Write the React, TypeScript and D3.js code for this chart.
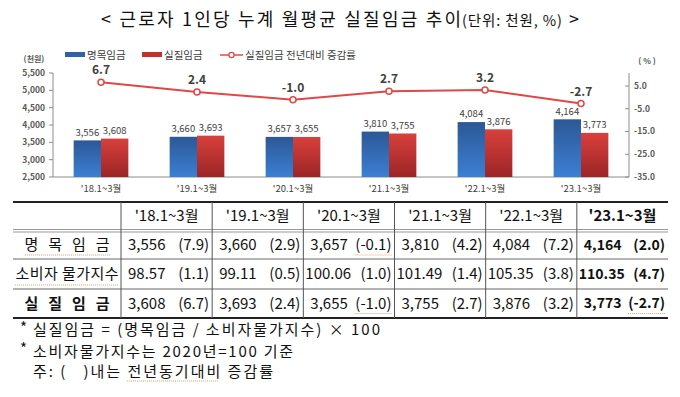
import React from "react";
import * as d3 from "d3";

const categories = ["'18.1~3월", "'19.1~3월", "'20.1~3월", "'21.1~3월", "'22.1~3월", "'23.1~3월"];
const nominalWage = [3556, 3660, 3657, 3810, 4084, 4164];
const realWage = [3608, 3693, 3655, 3755, 3876, 3773];
const realWageGrowth = [6.7, 2.4, -1.0, 2.7, 3.2, -2.7];
const nominalWageGrowth = [7.9, 2.9, -0.1, 4.2, 7.2, 2.0];
const cpiIndex = [98.57, 99.11, 100.06, 101.49, 105.35, 110.35];
const cpiGrowth = [1.1, 0.5, 1.0, 1.4, 3.8, 4.7];
const leftTicks = [2500, 3000, 3500, 4000, 4500, 5000, 5500];
const rightTicks = [5, -5, -15, -25, -35];
const legendLabels = ["명목임금", "실질임금", "실질임금 전년대비 증감률"];
const rowLabels = ["명 목 임 금", "소비자 물가지수", "실 질 임 금"];
const titleMain = "< 근로자 1인당 누계 월평균 실질임금 추이";
const titleUnit = "(단위: 천원, %)";
const footnotes = ["실질임금 = (명목임금 / 소비자물가지수) × 100", "소비자물가지수는 2020년=100 기준", "주: (   )내는 전년동기대비 증감률"];

const FONT = "'Noto Sans CJK KR', 'Noto Sans', sans-serif";

export default function App() {
  const W = 680, H = 397;
  const x = d3.scaleBand<string>().domain(categories).range([53, 629]).paddingInner(0.43).paddingOuter(0.215);
  const xs = d3.scaleBand<string>().domain(["n", "r"]).range([0, x.bandwidth()]);
  const yL = d3.scaleLinear().domain([2500, 5500]).range([177, 73]);
  const yR = d3.scaleLinear().domain([-35, 5]).range([177, 86]);
  const cx = (c: string) => (x(c) as number) + x.bandwidth() / 2;
  const line = d3.line<number>().x((_, i) => cx(categories[i])).y((d) => yR(d));
  const fmt = d3.format(",");
  const f1 = (v: number) => v.toFixed(1);

  // table layout
  const colX = d3.scaleBand<string>().domain(categories).range([121, 668]);
  const rowEdges = [202, 231, 259, 289, 318];
  const rowCenter = (i: number) => (rowEdges[i] + rowEdges[i + 1]) / 2 + (i === 0 ? -1 : 0);

  const tableRows = [
    { label: rowLabels[0], vals: nominalWage.map(fmt), pcts: nominalWageGrowth, bold: false, len: 85 },
    { label: rowLabels[1], vals: cpiIndex.map((d) => d.toFixed(2)), pcts: cpiGrowth, bold: false, len: 103 },
    { label: rowLabels[2], vals: realWage.map(fmt), pcts: realWageGrowth, bold: true, len: 85 },
  ];
  const squiggle = "#e6a57a";

  return (
    <svg width={W} height={H} style={{ position: "absolute", left: 0, top: 0, background: "#fff" }} fontFamily={FONT}>
      <defs>
        <linearGradient id="gBlue" x1="0" y1="0" x2="0" y2="1">
          <stop offset="0" stopColor="#2c5896" />
          <stop offset="1" stopColor="#3c7fd4" />
        </linearGradient>
        <linearGradient id="gRed" x1="0" y1="0" x2="0" y2="1">
          <stop offset="0" stopColor="#d8403d" />
          <stop offset="1" stopColor="#9c2526" />
        </linearGradient>
      </defs>

      {/* Title */}
      <text x={101} y={26} fontSize={18} fill="#111" textLength={360} lengthAdjust="spacing">{titleMain}</text>
      <text x={462} y={26} fontSize={14.5} fill="#111" textLength={100} lengthAdjust="spacing">{titleUnit}</text>
      <text x={569} y={26} fontSize={18} fill="#111">&gt;</text>

      {/* Legend */}
      <rect x={65} y={52} width={20} height={5} fill="#2f62a8" />
      <text x={87} y={55} dy="0.35em" fontSize={10.5} fill="#404040">{legendLabels[0]}</text>
      <rect x={142} y={52} width={20} height={5} fill="#c0302e" />
      <text x={164} y={55} dy="0.35em" fontSize={10.5} fill="#404040">{legendLabels[1]}</text>
      <line x1={220} x2={243} y1={55} y2={55} stroke="#e04848" strokeWidth={1.5} />
      <circle cx={231.5} cy={55} r={2.6} fill="#fff" stroke="#e04848" strokeWidth={1.3} />
      <text x={245} y={55} dy="0.35em" fontSize={10.5} fill="#404040">{legendLabels[2]}</text>

      {/* Axis units */}
      <text x={34} y={59} dy="0.35em" textAnchor="middle" fontSize={8} fill="#595959" fontWeight="bold">(천원)</text>
      <text x={647} y={61} dy="0.35em" textAnchor="middle" fontSize={8} fill="#595959" fontWeight="bold">( % )</text>

      {/* Left axis */}
      <line x1={53} x2={53} y1={yL(5500)} y2={yL(2500)} stroke="#8c8c8c" />
      {leftTicks.map((t) => (
        <g key={t}>
          <line x1={49} x2={53} y1={yL(t)} y2={yL(t)} stroke="#8c8c8c" />
          <text x={45} y={yL(t)} dy="0.35em" textAnchor="end" fontSize={8.5} fontWeight="bold" fill="#595959">{fmt(t)}</text>
        </g>
      ))}
      {/* Right axis */}
      <line x1={629} x2={629} y1={yL(5500)} y2={yR(-35)} stroke="#8c8c8c" />
      {rightTicks.map((t) => (
        <g key={t}>
          <line x1={625} x2={629} y1={yR(t)} y2={yR(t)} stroke="#8c8c8c" />
          <text x={634} y={yR(t)} dy="0.35em" textAnchor="start" fontSize={8.5} fontWeight="bold" fill="#595959">{f1(t)}</text>
        </g>
      ))}
      {/* baseline */}
      <line x1={53} x2={629} y1={177} y2={177} stroke="#8c8c8c" />

      {/* Bars */}
      {categories.map((c, i) => {
        const x0 = x(c) as number;
        return (
          <g key={c}>
            <rect x={x0 + (xs("n") as number)} y={yL(nominalWage[i])} width={xs.bandwidth()} height={yL(2500) - yL(nominalWage[i])} fill="url(#gBlue)" />
            <rect x={x0 + (xs("r") as number)} y={yL(realWage[i])} width={xs.bandwidth()} height={yL(2500) - yL(realWage[i])} fill="url(#gRed)" />
            <text x={x0 + (xs("n") as number) + xs.bandwidth() / 2} y={yL(nominalWage[i]) - 8} dy="0.35em" textAnchor="middle" fontSize={9.5} fill="#404040">{fmt(nominalWage[i])}</text>
            <text x={x0 + (xs("r") as number) + xs.bandwidth() / 2} y={yL(realWage[i]) - 8} dy="0.35em" textAnchor="middle" fontSize={9.5} fill="#404040">{fmt(realWage[i])}</text>
            <text x={cx(c)} y={189} dy="0.35em" textAnchor="middle" fontSize={9.5} fill="#404040">{c}</text>
          </g>
        );
      })}

      {/* Line */}
      <path d={line(realWageGrowth) as string} fill="none" stroke="#e04848" strokeWidth={2} />
      {realWageGrowth.map((v, i) => (
        <g key={i}>
          <circle cx={cx(categories[i])} cy={yR(v)} r={3} fill="#fff" stroke="#e04848" strokeWidth={1.5} />
          <text x={cx(categories[i])} y={yR(v) - 12} dy="0.35em" textAnchor="middle" fontSize={12} fontWeight="bold" fill="#404040">{f1(v)}</text>
        </g>
      ))}

      {/* Table */}
      <g>
        <line x1={13} x2={668} y1={202} y2={202} stroke="#222" strokeWidth={2} />
        <line x1={13} x2={668} y1={229.5} y2={229.5} stroke="#999" />
        <line x1={13} x2={668} y1={232} y2={232} stroke="#999" />
        <line x1={13} x2={668} y1={259} y2={259} stroke="#666" />
        <line x1={13} x2={668} y1={289} y2={289} stroke="#666" />
        <line x1={13} x2={668} y1={318} y2={318} stroke="#222" strokeWidth={2} />
        {categories.map((c) => (
          <line key={c} x1={colX(c) as number} x2={colX(c) as number} y1={202} y2={318} stroke="#555" />
        ))}
        {categories.map((c, i) => (
          <text key={c} x={(colX(c) as number) + colX.bandwidth() / 2} y={rowCenter(0)} dy="0.35em" textAnchor="middle" fontSize={15} fill="#111" fontWeight={i === 5 ? "bold" : "normal"}>{c}</text>
        ))}
        {tableRows.map((r, ri) => (
          <g key={ri}>
            <text x={67 - r.len / 2} y={rowCenter(ri + 1)} dy="0.35em" textAnchor="start" fontSize={15} fill="#111" fontWeight={r.bold ? "bold" : "normal"} textLength={r.len} lengthAdjust="spacing">{r.label}</text>
            {categories.map((c, i) => {
              const x0 = colX(c) as number;
              const last = i === 5;
              const v = r.vals[i];
              const fs = last ? 14 : 15;
              return (
                <g key={c} fontWeight={last ? "bold" : "normal"}>
                  <text x={x0 + (v.length > 5 ? 2 : 7)} y={rowCenter(ri + 1)} dy="0.35em" textAnchor="start" fontSize={fs} fill="#111">{v}</text>
                  <text x={x0 + colX.bandwidth() - 3} y={rowCenter(ri + 1)} dy="0.35em" textAnchor="end" fontSize={fs} fill="#111">({f1(r.pcts[i])})</text>
                  {r.pcts[i] < 0 && (
                    <line x1={x0 + colX.bandwidth() - 40} x2={x0 + colX.bandwidth() - 3} y1={rowCenter(ri + 1) + 10} y2={rowCenter(ri + 1) + 10} stroke={squiggle} strokeDasharray="1 1" />
                  )}
                </g>
              );
            })}
          </g>
        ))}
        <line x1={25} x2={110} y1={255} y2={255} stroke={squiggle} strokeDasharray="1 1" />
        <line x1={15} x2={118} y1={285} y2={285} stroke={squiggle} strokeDasharray="1 1" />
      </g>

      {/* Footnotes */}
      <text x={20} y={333} fontSize={15} fill="#111">*</text>
      <text x={33} y={330} dy="0.35em" fontSize={15} fill="#111" textLength={347} lengthAdjust="spacing">{footnotes[0]}</text>
      <text x={20} y={354} fontSize={15} fill="#111">*</text>
      <text x={33} y={351.5} dy="0.35em" fontSize={15} fill="#111" textLength={260} lengthAdjust="spacing">{footnotes[1]}</text>
      <text x={33} y={371.5} dy="0.35em" fontSize={15} fill="#111" style={{ whiteSpace: "pre" }} textLength={240} lengthAdjust="spacing">{footnotes[2]}</text>
      <line x1={127} x2={218} y1={381} y2={381} stroke={squiggle} strokeDasharray="1 1" />
    </svg>
  );
}
